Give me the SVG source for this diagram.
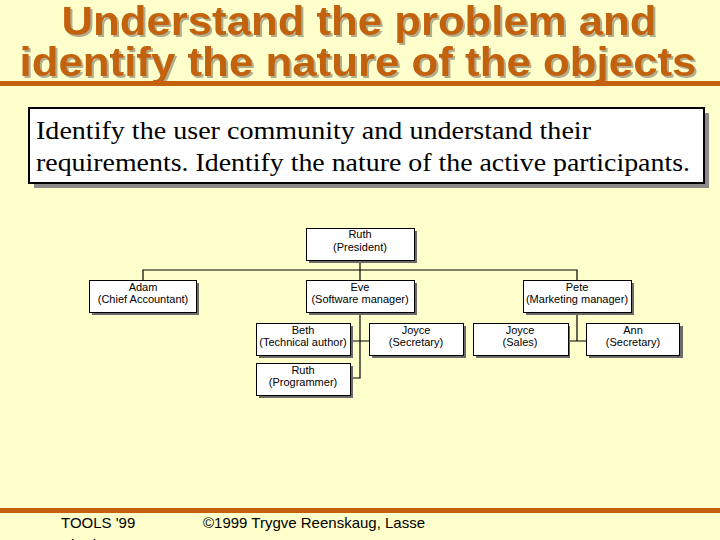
<svg xmlns="http://www.w3.org/2000/svg" width="720" height="540" viewBox="0 0 720 540">
<defs>
<filter id="tsh" x="-5%" y="-20%" width="110%" height="150%">
<feDropShadow dx="2" dy="2" stdDeviation="0.6" flood-color="#9c9c80" flood-opacity="0.8"/>
</filter>
<style>
.title{font-family:"Liberation Sans",Arial,sans-serif;font-weight:bold;font-size:41px;fill:#C3620B;text-anchor:middle;filter:url(#tsh)}
.body{font-family:"Liberation Serif","Times New Roman",serif;font-size:26px;fill:#000}
.node rect.b{fill:#fff;stroke:#000;stroke-width:1}
.node rect.s{fill:#6b6b6b}
.node text{font-family:"Liberation Sans",Arial,sans-serif;font-size:11px;fill:#000;text-anchor:middle}
.conn{stroke:#000;stroke-width:1.2;fill:none}
.foot{font-family:"Liberation Sans",Arial,sans-serif;font-size:15px;fill:#000}
</style>
</defs>
<rect width="720" height="540" fill="#FFFFCC"/>
<g id="title">
<text class="title" x="359" y="35" textLength="595" lengthAdjust="spacingAndGlyphs">Understand the problem and</text>
<text class="title" x="358" y="76" textLength="677" lengthAdjust="spacingAndGlyphs">identify the nature of the objects</text>
<rect x="0" y="81" width="720" height="5" fill="#C3620B"/>
</g>
<g id="textbox">
<rect x="34" y="113" width="675" height="75" fill="#8a8a8a"/>
<rect x="29" y="108" width="675" height="75" fill="#fff" stroke="#000" stroke-width="2"/>
<text class="body" x="36" y="139" textLength="555" lengthAdjust="spacingAndGlyphs">Identify the user community and understand their</text>
<text class="body" x="36" y="171" textLength="654" lengthAdjust="spacingAndGlyphs">requirements. Identify the nature of the active participants.</text>
</g>
<g id="connectors">
<path class="conn" d="M360 260V280M143 280V270H577V280"/>
<path class="conn" d="M360 312V378H350M350 341H369"/>
<path class="conn" d="M577 312V341M569 341H586"/>
</g>
<g id="n-ruth-president" class="node">
<rect class="s" x="309" y="231" width="108" height="32"/>
<rect class="b" x="306.5" y="228.5" width="108" height="32"/>
<text x="360" y="238">Ruth</text><text x="360" y="251">(President)</text>
</g>
<g id="n-adam" class="node">
<rect class="s" x="92" y="283" width="107" height="32"/>
<rect class="b" x="89.5" y="280.5" width="107" height="32"/>
<text x="143" y="291">Adam</text><text x="143" y="303">(Chief Accountant)</text>
</g>
<g id="n-eve" class="node">
<rect class="s" x="309" y="283" width="108" height="32"/>
<rect class="b" x="306.5" y="280.5" width="108" height="32"/>
<text x="360" y="291">Eve</text><text x="360" y="303">(Software manager)</text>
</g>
<g id="n-pete" class="node">
<rect class="s" x="526" y="283" width="108" height="32"/>
<rect class="b" x="523.5" y="280.5" width="108" height="32"/>
<text x="577" y="291">Pete</text><text x="577" y="303">(Marketing manager)</text>
</g>
<g id="n-beth" class="node">
<rect class="s" x="259" y="326" width="94" height="32"/>
<rect class="b" x="256.5" y="323.5" width="94" height="32"/>
<text x="303" y="334">Beth</text><text x="303" y="346">(Technical author)</text>
</g>
<g id="n-joyce-secretary" class="node">
<rect class="s" x="372" y="326" width="94" height="32"/>
<rect class="b" x="369.5" y="323.5" width="94" height="32"/>
<text x="416" y="334">Joyce</text><text x="416" y="346">(Secretary)</text>
</g>
<g id="n-ruth-programmer" class="node">
<rect class="s" x="259" y="366" width="94" height="32"/>
<rect class="b" x="256.5" y="363.5" width="94" height="32"/>
<text x="303" y="374">Ruth</text><text x="303" y="386">(Programmer)</text>
</g>
<g id="n-joyce-sales" class="node">
<rect class="s" x="476" y="326" width="94" height="32"/>
<rect class="b" x="473.5" y="323.5" width="95" height="32"/>
<text x="520" y="334">Joyce</text><text x="520" y="346">(Sales)</text>
</g>
<g id="n-ann" class="node">
<rect class="s" x="589" y="326" width="94" height="32"/>
<rect class="b" x="586.5" y="323.5" width="93" height="32"/>
<text x="633" y="334">Ann</text><text x="633" y="346">(Secretary)</text>
</g>
<g id="footer">
<rect x="0" y="508" width="720" height="5" fill="#C3620B"/>
<text class="foot" x="61" y="528">TOOLS '99</text>
<text class="foot" x="61" y="550">Bierde</text>
<text class="foot" x="203" y="528">©1999 Trygve Reenskaug, Lasse</text>
</g>
</svg>
